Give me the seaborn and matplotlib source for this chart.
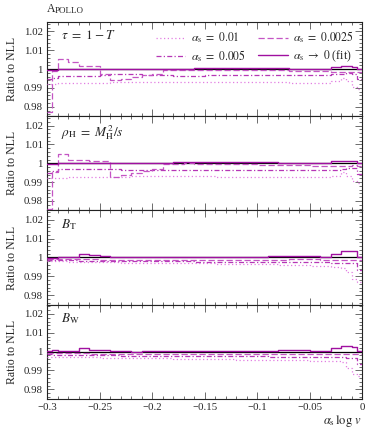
import numpy as np
import matplotlib
matplotlib.use("Agg")
import matplotlib.pyplot as plt
import seaborn as sns
from matplotlib.ticker import MultipleLocator

# bin edges of the histograms (alpha_s log v)
EDGES = [-0.3, -0.295, -0.29, -0.28, -0.27, -0.26, -0.25, -0.24, -0.23, -0.22,
         -0.21, -0.2, -0.19, -0.18, -0.17, -0.16, -0.15, -0.14, -0.13, -0.12,
         -0.11, -0.1, -0.09, -0.08, -0.07, -0.06, -0.05, -0.04, -0.03, -0.02,
         -0.015, -0.01, -0.005, 0.0]

# deviations from NLL, in units of 1e-3 (ratio = 1 + dev / 1000)
tau_a001 = [-8.0, -7.8, -7.5, -7.5, -7.4, -7.3, -7.2, -7.0, -6.9, -6.8, -6.8, -6.8, -6.9,
            -7.0, -7.0, -7.0, -7.0, -7.1, -7.1, -7.0, -7.0, -7.0, -7.1, -7.1, -7.2, -7.2,
            -7.2, -7.2, -6.2, -4.5, -6.5, -9.5, -10.5]
tau_a0005 = [-5.5, -4.5, -3.8, -3.6, -3.5, -3.4, -3.0, -2.8, -2.6, -2.8, -3.0, -3.2, -3.3,
             -3.4, -3.4, -3.4, -3.3, -3.2, -3.2, -3.1, -3.1, -3.0, -3.0, -3.0, -3.1, -3.1,
             -3.2, -3.3, -2.8, -2.4, -2.2, -2.5, -5.5]
tau_a00025 = [-23.0, -1.0, 5.3, 3.8, 1.5, 1.6, -2.5, -6.0, -5.0, -4.3, -3.0, -2.7, -0.6,
              -0.3, -0.3, -0.4, -0.4, -0.5, -0.5, -0.5, -0.6, -0.6, -0.7, -0.7, -0.8, -0.9,
              -1.0, -1.1, -1.3, -1.5, -1.6, -1.6, -1.6]
tau_fit = [-0.5, -0.5, 0.2, 0.3, 0.3, 0.3, 0.3, 0.2, 0.2, 0.2, 0.2, 0.3, 0.3, 0.3, 0.3,
           0.4, 0.5, 0.6, 0.6, 0.6, 0.5, 0.5, 0.4, 0.4, 0.3, 0.2, 0.1, 0.2, 1.2, 1.4, 1.4,
           1.3, 0.3]

rho_a001 = [-8.0, -7.8, -7.6, -7.5, -7.4, -7.3, -7.3, -7.2, -7.1, -7.0, -7.0, -7.0, -7.0,
            -7.0, -7.0, -7.0, -7.0, -7.1, -7.1, -7.1, -7.1, -7.1, -7.1, -7.2, -7.2, -7.2,
            -7.3, -7.3, -6.5, -4.5, -6.5, -9.5, -10.5]
rho_a0005 = [-5.0, -4.2, -3.2, -3.1, -3.0, -3.0, -2.9, -3.2, -3.5, -3.6, -3.6, -3.5, -3.4,
             -3.3, -3.3, -3.3, -3.3, -3.4, -3.4, -3.4, -3.4, -3.5, -3.5, -3.5, -3.5, -3.5,
             -3.5, -3.6, -3.4, -3.0, -2.5, -2.6, -5.5]
rho_a00025 = [-24.0, -4.5, 4.8, 2.0, 1.5, 1.0, 1.2, -7.5, -6.3, -5.0, -4.0, -3.0, -0.6,
              -0.3, 0.0, -0.2, -0.3, -0.4, -0.5, -0.5, -0.6, -0.7, -0.8, -0.9, -1.0, -1.1,
              -1.3, -1.5, -1.6, -1.5, -1.2, -1.0, -1.2]
rho_fit = [-0.3, -0.2, 0.2, 0.3, 0.4, 0.4, 0.3, 0.2, 0.2, 0.1, 0.0, 0.1, 0.4, 0.5, 0.5,
           0.5, 0.5, 0.5, 0.6, 0.6, 0.6, 0.5, 0.5, 0.4, 0.3, 0.2, 0.1, 0.3, 1.0, 1.3, 1.3,
           1.2, 0.2]

bt_a001 = [-2.0, -2.0, -2.1, -2.2, -2.3, -2.4, -2.5, -2.6, -2.7, -2.8, -2.9, -3.0, -3.0,
           -3.1, -3.1, -3.2, -3.2, -3.3, -3.3, -3.4, -3.5, -3.6, -3.7, -3.8, -3.9, -4.1,
           -4.3, -4.6, -5.0, -5.5, -7.5, -11.5, -12.8]
bt_a0005 = [-1.5, -1.5, -1.6, -1.6, -1.7, -1.8, -1.8, -1.9, -1.9, -2.0, -2.0, -2.0, -2.1,
            -2.1, -2.1, -2.2, -2.2, -2.2, -2.3, -2.3, -2.3, -2.4, -2.4, -2.4, -2.5, -2.5,
            -2.6, -2.6, -2.8, -3.0, -3.0, -3.2, -6.5]
bt_a00025 = [-0.8, -0.8, -0.9, -1.0, -1.0, -1.0, -1.1, -1.1, -1.1, -1.2, -1.2, -1.2, -1.3,
             -1.3, -1.3, -1.3, -1.3, -1.3, -1.3, -1.2, -1.2, -1.2, -1.1, -1.1, -1.0, -1.0,
             -1.0, -1.1, -1.2, -1.3, -1.3, -1.3, -1.4]
bt_fit = [-0.5, -0.3, 0.0, 0.3, 1.6, 1.2, 0.9, 0.5, 0.3, 0.2, 0.1, 0.4, 0.5, 0.2, 0.2, 0.1,
          0.1, 0.1, 0.1, 0.1, 0.2, 0.4, 0.7, 0.9, 1.0, 0.8, 0.6, 0.3, 2.0, 3.2, 3.3, 3.2,
          0.3]

bw_a001 = [-2.8, -2.8, -2.9, -3.0, -3.0, -3.1, -3.2, -3.2, -3.3, -3.4, -3.5, -3.5, -3.6,
           -3.7, -3.8, -3.8, -3.9, -4.0, -4.1, -4.2, -4.3, -4.4, -4.4, -4.5, -4.5, -4.6,
           -4.7, -4.8, -5.0, -5.5, -8.5, -12.0, -13.0]
bw_a0005 = [-1.5, -1.6, -1.7, -1.8, -1.8, -1.9, -2.0, -2.0, -2.1, -2.1, -2.2, -2.2, -2.2,
            -2.3, -2.3, -2.3, -2.4, -2.4, -2.4, -2.5, -2.5, -2.5, -2.6, -2.6, -2.7, -2.7,
            -2.8, -2.9, -3.0, -3.1, -3.2, -3.4, -6.5]
bw_a00025 = [-0.6, -0.7, -0.8, -0.8, -0.9, -1.0, -1.0, -1.0, -1.1, -1.1, -1.1, -1.2, -1.2,
             -1.2, -1.2, -1.2, -1.2, -1.2, -1.2, -1.1, -1.1, -1.1, -1.0, -1.0, -1.0, -1.0,
             -1.0, -1.1, -1.2, -1.3, -1.3, -1.3, -1.4]
bw_fit = [0.3, 0.8, 0.2, 0.4, 1.7, 1.0, 0.7, 0.5, 0.2, 0.0, 0.1, 0.5, 0.5, 0.2, 0.2, 0.1,
          0.1, 0.1, 0.1, 0.2, 0.2, 0.4, 0.5, 0.8, 0.9, 0.7, 0.5, 0.3, 1.8, 2.8, 2.9, 2.7,
          0.2]

PANELS = [
    (r"$\tau\ =\ 1 - T$", [tau_a001, tau_a0005, tau_a00025, tau_fit]),
    (r"$\rho_\mathrm{H}\ =\ M_\mathrm{H}^2/s$", [rho_a001, rho_a0005, rho_a00025, rho_fit]),
    (r"$B_\mathrm{T}$", [bt_a001, bt_a0005, bt_a00025, bt_fit]),
    (r"$B_\mathrm{W}$", [bw_a001, bw_a0005, bw_a00025, bw_fit]),
]
LABELS = [r"$\alpha_\mathrm{s}\ =\ 0.01$", r"$\alpha_\mathrm{s}\ =\ 0.005$",
          r"$\alpha_\mathrm{s}\ =\ 0.0025$", r"$\alpha_\mathrm{s}\ \to\ 0$ (fit)"]
COLORS = ["#e27ee2", "#b637b6", "#c455c4", "#a010a0"]
STYLES = [(0, (1, 2)), (0, (4, 1.8, 1, 1.8)), (0, (5, 2.2)), "-"]
WIDTHS = [0.9, 0.9, 0.9, 1.0]

sns.set_theme(style="ticks")
plt.rcParams["font.family"] = ["Liberation Serif", "DejaVu Serif"]
plt.rcParams["mathtext.fontset"] = "stix"

fig, axes = plt.subplots(4, 1, figsize=(3.74, 4.32), dpi=100, sharex=True)
fig.subplots_adjust(left=0.126, right=0.968, top=0.949, bottom=0.077, hspace=0)

edges = np.array(EDGES)
for ax, (name, series) in zip(axes, PANELS):
    ax.axhline(1.0, color="black", lw=0.9, zorder=2)
    for vals, lab, col, ls, lw in zip(series, LABELS, COLORS, STYLES, WIDTHS):
        ratio = 1 + np.array(vals + [vals[-1]]) / 1000
        sns.lineplot(x=edges, y=ratio, ax=ax, color=col, linestyle=ls, lw=lw,
                     drawstyle="steps-post", estimator=None, label=lab,
                     legend=False, zorder=3)
    ax.set_xlim(-0.3, 0)
    ax.set_ylim(0.975, 1.025)
    ax.set_yticks([0.98, 0.99, 1.0, 1.01, 1.02])
    ax.set_yticklabels(["0.98", "0.99", "1", "1.01", "1.02"])
    ax.yaxis.set_minor_locator(MultipleLocator(0.002))
    ax.xaxis.set_major_locator(MultipleLocator(0.05))
    ax.xaxis.set_minor_locator(MultipleLocator(0.01))
    ax.tick_params(which="both", direction="in", top=True, right=True,
                   width=0.6, color="#555555", labelsize=7.8, pad=3)
    ax.tick_params(which="major", length=5)
    ax.tick_params(which="minor", length=2.5)
    for sp in ax.spines.values():
        sp.set_linewidth(0.8)
        sp.set_color("#222222")
    ax.set_ylabel("Ratio to NLL", fontsize=8.5, labelpad=4)
    ax.text(0.045, 0.93, name, transform=ax.transAxes, fontsize=9.5, va="top")

axes[-1].set_xticks([-0.3, -0.25, -0.2, -0.15, -0.1, -0.05, 0])
axes[-1].set_xticklabels(["\u22120.3", "\u22120.25", "\u22120.2", "\u22120.15",
                          "\u22120.1", "\u22120.05", "0"])
axes[-1].set_xlabel(r"$\alpha_\mathrm{s}\,\log\, v$", fontsize=9, loc="right", labelpad=1)

axes[0].legend(ncol=2, loc="upper right", frameon=False, fontsize=8.5,
               handlelength=2.5, handletextpad=0.5, columnspacing=1.0,
               labelspacing=0.25, borderaxespad=0.25)

fig.text(0.126, 0.965, "A", fontsize=8.5, va="bottom")
fig.text(0.126 + 0.021, 0.965, "POLLO", fontsize=6.5, va="bottom")

fig.savefig("out.png", dpi=100)
